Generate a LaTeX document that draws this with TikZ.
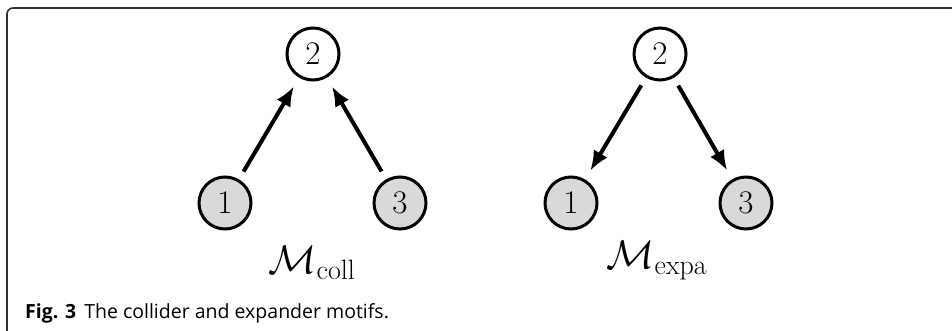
\RequirePackage{fix-cm}
\documentclass[tikz,border=0pt]{standalone}
\usepackage{fontspec}
\setsansfont{Open Sans}
\usetikzlibrary{arrows.meta}
\begin{document}
\begin{tikzpicture}[x=1pt,y=-1pt,
  vert/.style={circle,draw=black,line width=3pt,minimum size=52pt,inner sep=0pt,font=\fontsize{33}{36}\selectfont},
  obs/.style={vert,fill=gray!30},
  edge/.style={line width=4pt,-{Latex[length=20pt,width=16pt]},shorten >=10pt,shorten <=9pt},
  motif/.style={font=\fontsize{40}{46}\selectfont},
  frame/.style={draw=black!80,line width=1.6pt,rounded corners=6pt}]
\useasboundingbox (0,0) rectangle (952,331);
\draw[frame] (7,331) -- (7,8) -- (960,8);
% collider
\node[vert] (c2) at (313,54) {$2$};
\node[obs] (c1) at (225,203) {$1$};
\node[obs] (c3) at (400,203) {$3$};
\draw[edge] (c1) -- (c2);
\draw[edge] (c3) -- (c2);
\node[motif] (lc) at (312,263) {$\mathcal{M}_{\mathrm{coll}}$};
% expander
\node[vert] (e2) at (660,54) {$2$};
\node[obs] (e1) at (571,203) {$1$};
\node[obs] (e3) at (746,203) {$3$};
\draw[edge] (e2) -- (e1);
\draw[edge] (e2) -- (e3);
\node[motif] (le) at (657,261) {$\mathcal{M}_{\mathrm{expa}}$};
% caption
\node[anchor=west,font=\sffamily\fontsize{19.5}{23}\selectfont,inner sep=0pt] (cap) at (25,313) {\textbf{Fig. 3}\hspace{8pt}The collider and expander motifs.};
\end{tikzpicture}
\end{document}
